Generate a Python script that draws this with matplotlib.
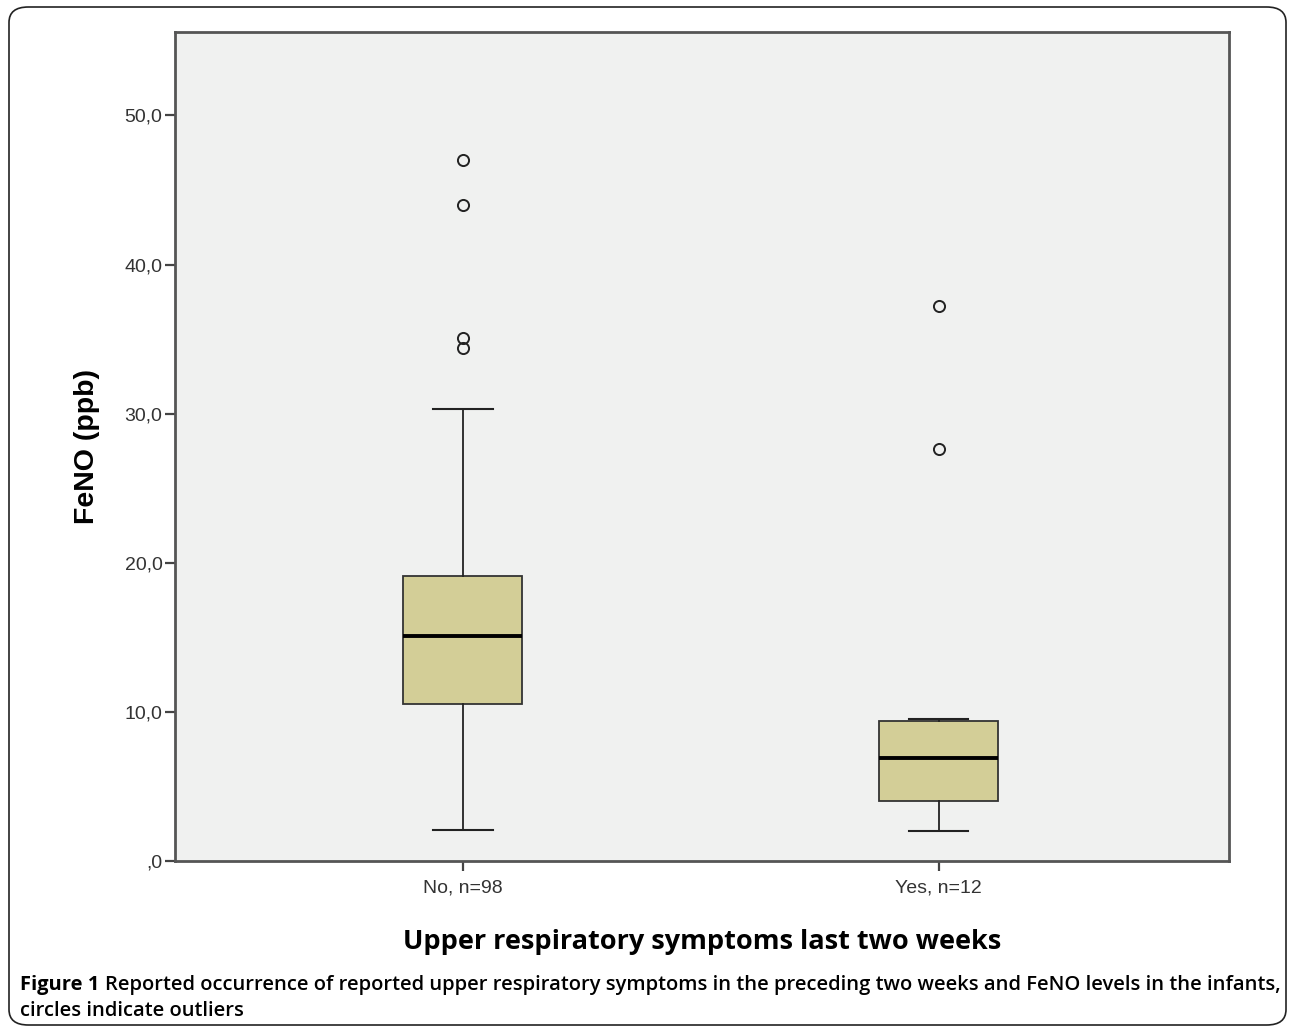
import numpy as np
import matplotlib.pyplot as plt
from matplotlib.patches import FancyBboxPatch

# values
groups = ['No, n=98', 'Yes, n=12']
q1 = [10.5, 4.0]
median = [15.1, 6.9]
q3 = [19.1, 9.4]
whislo = [2.1, 2.0]
whishi = [30.3, 9.5]
outliers = [[47.0, 44.0, 35.1, 34.4], [37.2, 27.6]]
yticks = [0, 10, 20, 30, 40, 50]
ytick_labels = [',0', '10,0', '20,0', '30,0', '40,0', '50,0']

stats = []
for i in range(len(groups)):
    stats.append(dict(label=groups[i], q1=q1[i], med=median[i], q3=q3[i],
                      whislo=whislo[i], whishi=whishi[i], fliers=outliers[i]))

fig = plt.figure(figsize=(12.9, 10.3), dpi=100)
ax = fig.add_axes([175/1290, 169/1030, 1054/1290, 829/1030])
ax.set_facecolor('#f0f1f0')

ax.bxp(stats, positions=[1, 2], widths=0.25, patch_artist=True,
       boxprops=dict(facecolor='#d3ce97', edgecolor='#333333', linewidth=1.3),
       medianprops=dict(color='black', linewidth=2.8),
       whiskerprops=dict(color='#222222', linewidth=1.3),
       capprops=dict(color='#222222', linewidth=1.5),
       capwidths=0.125,
       flierprops=dict(marker='o', markerfacecolor='none', markeredgecolor='#222222',
                       markersize=8, markeredgewidth=1.4))

ax.set_xlim(0.395, 2.61)
ax.set_ylim(0, 55.6)
ax.set_yticks(yticks)
ax.set_yticklabels(ytick_labels)
for s in ax.spines.values():
    s.set_color('#555555')
    s.set_linewidth(2)
ax.tick_params(axis='both', direction='out', length=7, width=1.6, color='#444444',
               labelsize=14, labelcolor='#333333', pad=2)
ax.tick_params(axis='x', pad=6)
for lab in ax.get_xticklabels() + ax.get_yticklabels():
    lab.set_family('Liberation Sans')

ax.set_ylabel('FeNO (ppb)', fontsize=20.5, fontweight='bold', family='Liberation Sans',
              labelpad=18)
ax.set_xlabel('Upper respiratory symptoms last two weeks', fontsize=19.5,
              fontweight='bold', family='Open Sans', labelpad=24)

# caption
fig.canvas.draw()
renderer = fig.canvas.get_renderer()
t1 = fig.text(20/1290, 1 - 985/1030, 'Figure 1 ', fontsize=14.5, fontweight='bold',
              family='Open Sans', va='center')
bb = t1.get_window_extent(renderer)
fig.text(bb.x1/1290, 1 - 985/1030, 'Reported occurrence of reported upper respiratory symptoms '
         'in the preceding two weeks and FeNO levels in the infants,',
         fontsize=14.5, fontweight='semibold', family='Open Sans', va='center')
fig.text(20/1290, 1 - 1011/1030, 'circles indicate outliers', fontsize=14.5,
         fontweight='semibold', family='Open Sans', va='center')

border = FancyBboxPatch((9/1290, 5/1030), 1277/1290, 1018/1030,
                        boxstyle='round,pad=0,rounding_size=0.015',
                        transform=fig.transFigure, fill=False,
                        edgecolor='#222222', linewidth=1.2)
fig.patches.append(border)

fig.savefig('out.png', dpi=100)
